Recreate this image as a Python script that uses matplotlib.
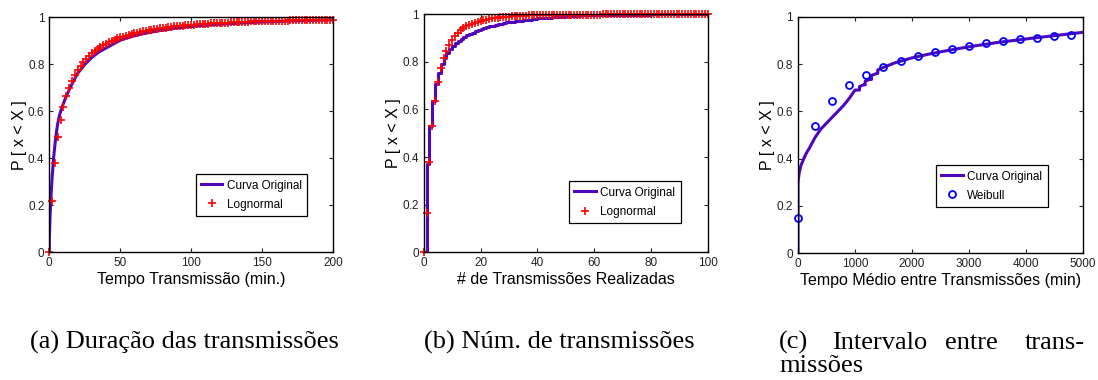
import matplotlib
matplotlib.use("Agg")
import matplotlib.pyplot as plt
import numpy as np

plt.rcParams["font.family"] = ["Liberation Sans", "DejaVu Sans"]

PURPLE = "#5206BC"
RED = "#FF0000"
BLUE = "#0000FF"

# (a) duração das transmissões
dur_orig_x = [0, 0, 0.5, 1, 2, 3, 4, 5, 6, 7, 8, 10, 12, 15, 18, 20, 25, 30, 35, 40,
              50, 60, 70, 80, 90, 100, 120, 140, 160, 180, 200]
dur_orig_y = [0, 0.05, 0.15, 0.22, 0.32, 0.40, 0.46, 0.51, 0.55, 0.58, 0.60, 0.635, 0.665,
              0.705, 0.74, 0.762, 0.80, 0.83, 0.853, 0.87, 0.903, 0.922, 0.936, 0.946, 0.955,
              0.962, 0.971, 0.978, 0.983, 0.987, 0.99]
dur_logn_x = list(range(0, 201, 2))
dur_logn_y = [0.00, 0.22, 0.38, 0.49, 0.565, 0.62, 0.665, 0.70, 0.73, 0.755, 0.775,
              0.795, 0.81, 0.825, 0.837, 0.848, 0.858, 0.867, 0.875, 0.882, 0.889,
              0.895, 0.901, 0.906, 0.911, 0.915, 0.919, 0.923, 0.927, 0.930, 0.933,
              0.936, 0.939, 0.941, 0.944, 0.946, 0.948, 0.950, 0.952, 0.954, 0.956,
              0.957, 0.959, 0.960, 0.962, 0.963, 0.964, 0.965, 0.967, 0.968, 0.969,
              0.970, 0.971, 0.972, 0.972, 0.973, 0.974, 0.975, 0.975, 0.976, 0.977,
              0.977, 0.978, 0.978, 0.979, 0.980, 0.980, 0.981, 0.981, 0.982, 0.982,
              0.983, 0.983, 0.983, 0.984, 0.984, 0.985, 0.985, 0.985, 0.986, 0.986,
              0.986, 0.987, 0.987, 0.987, 0.988, 0.988, 0.988, 0.988, 0.989, 0.989,
              0.989, 0.989, 0.990, 0.990, 0.990, 0.990, 0.991, 0.991, 0.991, 0.991]

# (b) número de transmissões (degraus)
num_orig_x = list(range(0, 31)) + [32, 35, 38, 40, 45, 50, 55, 60, 70, 80, 90, 100]
num_orig_y = [0, 0.37, 0.53, 0.635, 0.705, 0.752, 0.79, 0.815, 0.835, 0.852, 0.866,
              0.878, 0.888, 0.896, 0.904, 0.911, 0.917, 0.922, 0.927, 0.932, 0.936,
              0.940, 0.944, 0.948, 0.951, 0.954, 0.957, 0.960, 0.963, 0.965, 0.968,
              0.972, 0.976, 0.980, 0.983, 0.988, 0.991, 0.994, 0.996, 0.998, 0.999,
              1.0, 1.0]
num_logn_x = list(range(0, 101))
num_logn_y = [0, 0.165, 0.378, 0.530, 0.637, 0.715, 0.772, 0.814, 0.846, 0.871, 0.891,
              0.907, 0.920, 0.931, 0.940, 0.948, 0.954, 0.960, 0.964, 0.968, 0.972,
              0.975, 0.977, 0.980, 0.982, 0.983, 0.985, 0.986, 0.987, 0.988, 0.989,
              0.990, 0.991, 0.992, 0.992, 0.993, 0.993, 0.994, 0.994, 0.995, 0.995,
              0.995, 0.996, 0.996, 0.996, 0.996, 0.997, 0.997, 0.997, 0.997, 0.997,
              0.998, 0.998, 0.998, 0.998, 0.998, 0.998, 0.998, 0.998, 0.998, 0.998,
              0.998, 0.998, 0.999, 0.999, 0.999, 0.999, 0.999, 0.999, 0.999, 0.999,
              0.999, 0.999, 0.999, 0.999, 0.999, 0.999, 0.999, 0.999, 0.999, 0.999,
              0.999, 0.999, 0.999, 0.999, 0.999, 0.999, 0.999, 0.999, 0.999, 0.999,
              1.0, 1.0, 1.0, 1.0, 1.0, 1.0, 1.0, 1.0, 1.0, 1.0]

# (c) intervalo entre transmissões
int_orig_x = [0, 0, 20, 50, 100, 150, 200, 300, 400, 500, 600, 700, 800, 900, 1000,
              1080, 1080, 1150, 1180, 1180, 1260, 1290, 1290, 1380, 1400, 1400, 1500,
              1700, 2000, 2300, 2600, 3000, 3500, 4000, 4500, 5000]
int_orig_y = [0, 0.30, 0.34, 0.37, 0.40, 0.425, 0.445, 0.49, 0.525, 0.55, 0.575, 0.60,
              0.625, 0.655, 0.69, 0.69, 0.705, 0.712, 0.712, 0.728, 0.735, 0.735, 0.752,
              0.76, 0.76, 0.775, 0.786, 0.805, 0.826, 0.842, 0.856, 0.873, 0.891, 0.906,
              0.92, 0.934]
int_weib_x = list(range(0, 4801, 300))
int_weib_y = [0.151, 0.537, 0.645, 0.71, 0.754, 0.787, 0.813, 0.834, 0.851, 0.865,
              0.877, 0.887, 0.896, 0.904, 0.911, 0.918, 0.924]

captions = ["(a) Duração das transmissões", "(b) Núm. de transmissões"]


def style_axes(ax, xmax, xticks, xlabel):
    ax.set_xlim(0, xmax)
    ax.set_ylim(0, 1)
    ax.set_xticks(xticks)
    ax.set_yticks([0, 0.2, 0.4, 0.6, 0.8, 1])
    ax.set_yticklabels(["0", "0.2", "0.4", "0.6", "0.8", "1"])
    ax.tick_params(direction="in", top=True, right=True, length=3, width=0.8,
                   labelsize=8.5, colors="#222222", labelcolor="#222222")
    for s in ax.spines.values():
        s.set_linewidth(1.0)
    ax.set_xlabel(xlabel, fontsize=11.5, labelpad=2)
    ax.set_ylabel("P [ x < X ]", fontsize=11.5, labelpad=1)


def add_legend(ax, anchor):
    leg = ax.legend(loc="lower left", bbox_to_anchor=anchor, borderaxespad=0,
                    fontsize=8.5, fancybox=False, edgecolor="black", framealpha=1,
                    handlelength=1.8, handletextpad=0.4, borderpad=0.45,
                    labelspacing=0.6)
    leg.get_frame().set_linewidth(0.9)


fig = plt.figure(figsize=(10.98, 3.8), dpi=100)
ax1 = fig.add_axes([0.0449, 0.336, 0.2584, 0.618])
ax2 = fig.add_axes([0.3859, 0.336, 0.2587, 0.627])
ax3 = fig.add_axes([0.7268, 0.3334, 0.2593, 0.6226])

ax1.plot(dur_orig_x, dur_orig_y, color=PURPLE, lw=2.2, label="Curva Original")
ax1.plot(dur_logn_x, dur_logn_y, "+", color=RED, ms=5.5, mew=1.2, label="Lognormal",
         clip_on=False)
style_axes(ax1, 200, [0, 50, 100, 150, 200], "Tempo Transmissão (min.)")
add_legend(ax1, (0.516, 0.155))

ax2.plot(num_orig_x, num_orig_y, color=PURPLE, lw=2.2, drawstyle="steps-post",
         label="Curva Original")
ax2.plot(num_logn_x, num_logn_y, "+", color=RED, ms=5.5, mew=1.2, label="Lognormal",
         clip_on=False)
style_axes(ax2, 100, [0, 20, 40, 60, 80, 100], "# de Transmissões Realizadas")
add_legend(ax2, (0.512, 0.123))

ax3.plot(int_orig_x, int_orig_y, color=PURPLE, lw=2.2, label="Curva Original")
ax3.plot(int_weib_x, int_weib_y, "o", color=BLUE, mfc="none", ms=5, mew=1.3,
         label="Weibull", clip_on=False)
style_axes(ax3, 5000, [0, 1000, 2000, 3000, 4000, 5000],
           "Tempo Médio entre Transmissões (min)")
add_legend(ax3, (0.485, 0.196))

# legendas das subfiguras (texto em Times)
serif = ["Liberation Serif", "DejaVu Serif"]
cap_y1 = 1 - 349 / 380
cap_y2 = 1 - 372 / 380
fig.text(30 / 1098, cap_y1, captions[0], family=serif, fontsize=19, va="baseline")
fig.text(424 / 1098, cap_y1, captions[1], family=serif, fontsize=19, va="baseline")
for word, xpix in [("(c)", 779), ("Intervalo", 832), ("entre", 945)]:
    fig.text(xpix / 1098, cap_y1, word, family=serif, fontsize=19, va="baseline")
fig.text(1085 / 1098, cap_y1, "trans-", family=serif, fontsize=19, va="baseline",
         ha="right")
fig.text(779 / 1098, cap_y2, "missões", family=serif, fontsize=19, va="baseline")

fig.savefig("out.png", dpi=100)
